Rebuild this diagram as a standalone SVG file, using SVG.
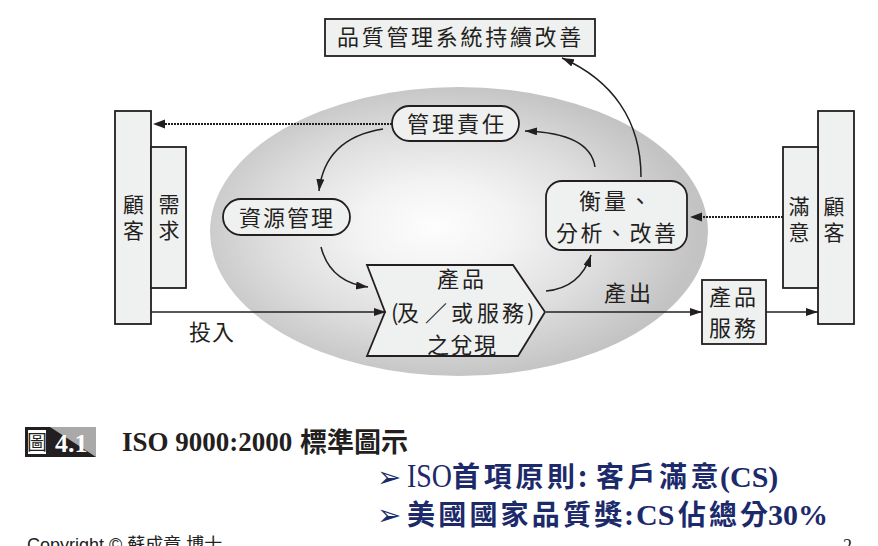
<svg xmlns="http://www.w3.org/2000/svg" width="878" height="546" viewBox="0 0 878 546">
<defs>
<radialGradient id="eg" cx="0.46" cy="0.5" r="0.52" fx="0.45" fy="0.48">
<stop offset="0" stop-color="#fdfdfd"/>
<stop offset="0.3" stop-color="#f3f3f3"/>
<stop offset="0.65" stop-color="#dedede"/>
<stop offset="1" stop-color="#c3c3c3"/>
</radialGradient>
<marker id="ah" markerUnits="userSpaceOnUse" markerWidth="14" markerHeight="10" refX="12" refY="4" orient="auto">
<path d="M0,0 L12,4 L0,8 z" fill="#231f20"/>
</marker>
<style>
.box{fill:#eff0f0;stroke:#231f20;stroke-width:1.8}
.t{font-family:"Noto Sans CJK TC","Noto Sans CJK SC",sans-serif;font-size:22px;fill:#231f20}
.v{font-family:"Noto Sans CJK TC","Noto Sans CJK SC",sans-serif;font-size:21px;fill:#231f20;text-anchor:middle}
.ln{fill:none;stroke:#231f20;stroke-width:1.5}
.dot{fill:none;stroke:#231f20;stroke-width:2.2;stroke-dasharray:2 1}
.blue{fill:#1c2a6b}
.bul{font-family:"DejaVu Sans",sans-serif;font-size:29px}
.cj{font-family:"Noto Sans CJK TC","Noto Sans CJK SC",sans-serif;font-weight:bold;font-size:28px}
.se{font-family:"Liberation Serif","Times New Roman",serif;font-weight:bold;font-size:30px}
</style>
</defs>
<rect width="878" height="546" fill="#ffffff"/>
<ellipse id="system-ellipse" cx="459" cy="231.5" rx="249" ry="144.5" fill="url(#eg)"/>

<g id="continual-improvement">
<rect class="box" x="325" y="19" width="270" height="37"/>
<text class="t" x="337" y="45" letter-spacing="2.7">品質管理系統持續改善</text>
</g>
<g id="customer-req">
<rect class="box" x="115" y="111" width="36" height="213"/>
<rect class="box" x="151" y="147" width="35" height="141"/>
<text class="v" x="133.5" y="212">顧</text>
<text class="v" x="133.5" y="238">客</text>
<text class="v" x="169" y="212">需</text>
<text class="v" x="169" y="238">求</text>
</g>
<g id="customer-sat">
<rect class="box" x="818" y="111" width="36" height="213"/>
<rect class="box" x="783" y="147" width="35" height="141"/>
<text class="v" x="799" y="214">滿</text>
<text class="v" x="799" y="240">意</text>
<text class="v" x="834" y="214">顧</text>
<text class="v" x="834" y="240">客</text>
</g>
<g id="mgmt-resp">
<rect class="box" x="392" y="106" width="127" height="35" rx="17.5"/>
<text class="t" x="407" y="132" letter-spacing="3">管理責任</text>
</g>
<g id="resource-mgmt">
<rect class="box" x="223" y="199" width="127" height="36" rx="18"/>
<text class="t" x="239" y="226" letter-spacing="2">資源管理</text>
</g>
<g id="measurement">
<rect class="box" x="546" y="181" width="141" height="69" rx="16"/>
<text class="t" x="579" y="209" letter-spacing="3">衡量、</text>
<text class="t" x="556" y="241" letter-spacing="2.5">分析、改善</text>
</g>
<g id="realization">
<polygon class="box" points="367,265 513,265 545,312 518,356 367,356 385,312"/>
<text class="t" x="437" y="287" letter-spacing="3">產品</text>
<text class="t" x="391 397 425 451 477 502 527" y="321">(及／或服務)</text>
<text class="t" x="427" y="353" letter-spacing="1.5">之兌現</text>
</g>
<g id="product">
<rect class="box" x="702" y="280" width="64" height="64"/>
<text class="t" x="709" y="305" letter-spacing="3">產品</text>
<text class="t" x="709" y="336" letter-spacing="3">服務</text>
</g>

<g id="connectors">
<path class="dot" d="M392,124 L165,124"/>
<path d="M153,124 L165,119.5 L165,128.5 z" fill="#231f20"/>
<path class="dot" d="M783,217 L702,217"/>
<path d="M690,217 L702,212.5 L702,221.5 z" fill="#231f20"/>
<path class="ln" d="M151,312 L386,312" marker-end="url(#ah)"/>
<path class="ln" d="M546,312 L702,312" marker-end="url(#ah)"/>
<path class="ln" d="M766,312 L818,312" marker-end="url(#ah)"/>
<path class="ln" d="M383,129 Q 325,138 319,191" marker-end="url(#ah)"/>
<path class="ln" d="M321,247 Q 330,282 368,287" marker-end="url(#ah)"/>
<path class="ln" d="M546,291 Q 580,288 591,255" marker-end="url(#ah)"/>
<path class="ln" d="M595,167 Q 590,133 525,131" marker-end="url(#ah)"/>
<path class="ln" d="M641,177 C 641,120 612,80 562,58" marker-end="url(#ah)"/>
<text class="t" x="604" y="301" letter-spacing="3">產出</text>
<text class="t" x="189" y="340" letter-spacing="1">投入</text>
</g>

<g id="caption">
<rect x="25" y="427" width="71" height="30" fill="#a9a9a9"/>
<polygon points="25,427 50,427 96,457 25,457" fill="#231f20"/>
<rect x="27.5" y="429.5" width="19" height="25" fill="#ffffff" stroke="#231f20" stroke-width="1"/>
<text x="37" y="450" font-family="Noto Sans CJK TC,sans-serif" font-size="20" text-anchor="middle" fill="#231f20">圖</text>
<text x="55" y="452" font-family="Liberation Serif,serif" font-weight="bold" font-size="26" fill="#ffffff">4.1</text>
<text x="122" y="451" font-family="Liberation Serif,serif" font-weight="bold" font-size="27" fill="#231f20">ISO 9000:2000</text>
<text x="300" y="452" font-family="Noto Sans CJK TC,sans-serif" font-weight="bold" font-size="27" fill="#231f20">標準圖示</text>
</g>

<g id="bullets" class="blue">
<text class="bul" x="377" y="487">➢</text>
<text x="407" y="487" font-family="Liberation Serif,serif" font-size="33" textLength="45" lengthAdjust="spacingAndGlyphs">ISO</text>
<text class="cj" x="452" y="487" letter-spacing="3.7">首項原則</text>
<text class="cj" x="578" y="487">:</text>
<text class="cj" x="596" y="487" letter-spacing="3.5">客戶滿意</text>
<text class="se" x="720" y="487">(CS)</text>
<text class="bul" x="377" y="525">➢</text>
<text class="cj" x="407" y="525" letter-spacing="3.2">美國國家品質獎</text>
<text class="se" x="624" y="525">:</text>
<text class="se" x="636" y="525" font-size="31">CS</text>
<text class="cj" x="678" y="525" letter-spacing="3">佔總分</text>
<text class="se" x="768" y="525">30%</text>
</g>

<text x="27" y="551" font-family="Liberation Sans,Noto Sans CJK TC,sans-serif" font-size="18" fill="#222222">Copyright © 蘇成章 博士</text>
<text x="843" y="552" font-family="Liberation Serif,serif" font-size="18" fill="#222222">2</text>
</svg>
